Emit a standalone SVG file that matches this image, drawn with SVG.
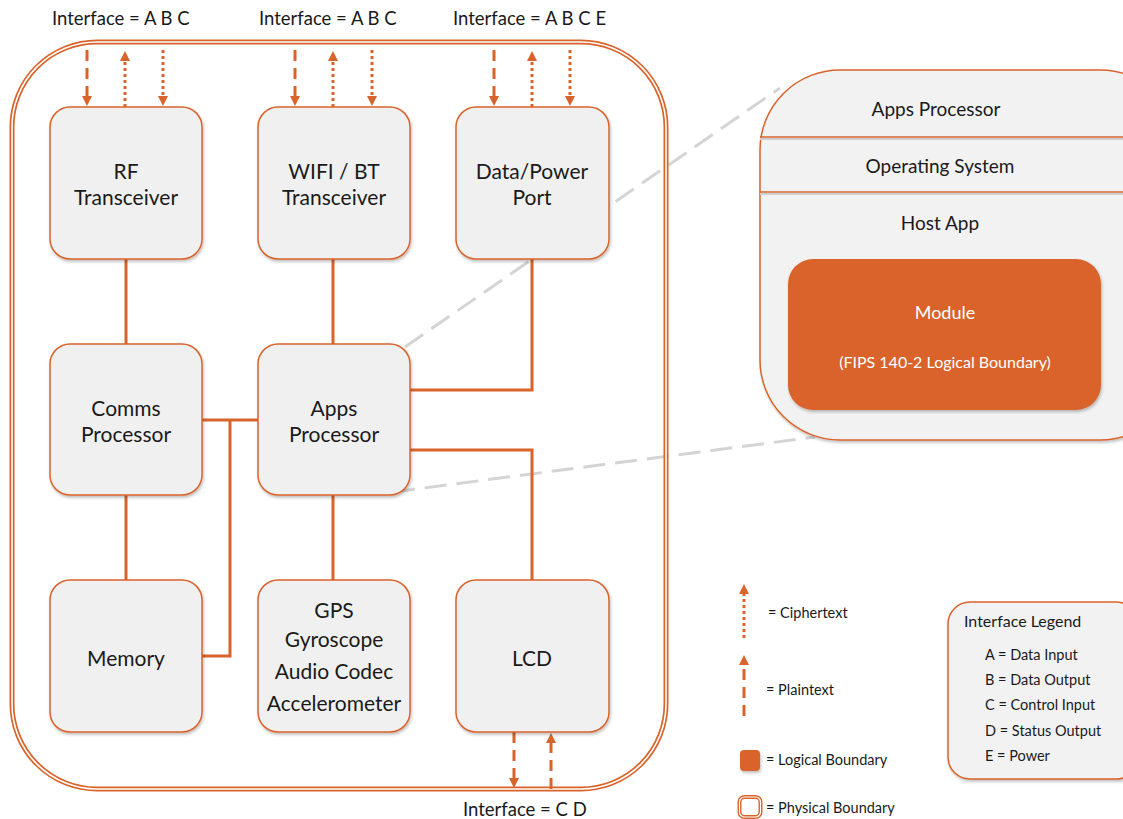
<svg xmlns="http://www.w3.org/2000/svg" width="1123" height="819" viewBox="0 0 1123 819">
<style>
text{font-family:Lato,"Open Sans","Liberation Sans",sans-serif;fill:#1a1a1a}
.t{font-size:21px;text-anchor:middle}
.p{font-size:19px;text-anchor:middle}
.lab{font-size:18.5px}
.node{fill:#f0f0f0;stroke:#d9642b;stroke-width:1.5;filter:url(#sh)}
.con{fill:none;stroke:#d9642b;stroke-width:3}
.dash{stroke:#d9642b;stroke-width:3;stroke-dasharray:11 7;fill:none}
.dot{stroke:#d9642b;stroke-width:3;stroke-dasharray:3 3;fill:none}
.zoom{stroke:#d4d4d4;stroke-width:3;stroke-dasharray:22 10;fill:none}
.lg{font-size:14.5px}
</style>
<defs>
<filter id="sh" x="-20%" y="-20%" width="140%" height="140%"><feDropShadow dx="1" dy="2" stdDeviation="1.5" flood-color="#000" flood-opacity="0.25"/></filter>
<marker id="ah" markerWidth="10" markerHeight="10" refX="5" refY="5" orient="auto" markerUnits="userSpaceOnUse" viewBox="0 0 10 10"><path d="M0,0 L10,5 L0,10 z" fill="#d9642b"/></marker>
</defs>
<rect width="1123" height="819" fill="#fff"/>

<!-- zoom lines -->
<g id="zoomlines">
<line class="zoom" x1="405" y1="347" x2="780" y2="88"/>
<line class="zoom" x1="393" y1="492" x2="815" y2="437"/>
</g>

<!-- physical boundary -->
<g id="physical-boundary">
<rect x="12" y="42" width="654" height="747" rx="85" fill="none" stroke="#d9642b" stroke-width="5"/>
<rect x="12" y="42" width="654" height="747" rx="85" fill="none" stroke="#fff" stroke-width="1.6"/>
</g>

<!-- connectors -->
<g id="connectors">
<line class="con" x1="126" y1="259" x2="126" y2="344"/>
<line class="con" x1="126" y1="495" x2="126" y2="600"/>
<line class="con" x1="333" y1="259" x2="333" y2="344"/>
<line class="con" x1="333" y1="495" x2="333" y2="580"/>
<line class="con" x1="202" y1="420" x2="258" y2="420"/>
<polyline class="con" points="202,656 230,656 230,420"/>
<polyline class="con" points="410,390 532,390 532,259"/>
<polyline class="con" points="410,450 532,450 532,580"/>
<line class="dash" x1="87" y1="50" x2="87" y2="101" marker-end="url(#ah)"/>
<line class="dot" x1="125" y1="107" x2="125" y2="56" marker-end="url(#ah)"/>
<line class="dot" x1="163" y1="50" x2="163" y2="101" marker-end="url(#ah)"/>
<line class="dash" x1="295" y1="50" x2="295" y2="101" marker-end="url(#ah)"/>
<line class="dot" x1="333" y1="107" x2="333" y2="56" marker-end="url(#ah)"/>
<line class="dot" x1="372" y1="50" x2="372" y2="101" marker-end="url(#ah)"/>
<line class="dash" x1="494" y1="50" x2="494" y2="101" marker-end="url(#ah)"/>
<line class="dot" x1="532" y1="107" x2="532" y2="56" marker-end="url(#ah)"/>
<line class="dot" x1="570" y1="50" x2="570" y2="101" marker-end="url(#ah)"/>
<line class="dash" x1="514" y1="732" x2="514" y2="783" marker-end="url(#ah)"/>
<line class="dash" x1="551" y1="789" x2="551" y2="738" marker-end="url(#ah)"/>
</g>

<g id="labels">
<text class="lab" x="52" y="25">Interface = A B C</text>
<text class="lab" x="259" y="25">Interface = A B C</text>
<text class="lab" x="453" y="25">Interface = A B C E</text>
<text class="lab" x="463" y="816">Interface = C D</text>
</g>

<g id="rf"><rect class="node" x="50" y="107" width="152" height="152" rx="20"/>
<text class="t" x="126" y="179">RF</text><text class="t" x="126" y="205">Transceiver</text></g>
<g id="wifi"><rect class="node" x="258" y="107" width="152" height="152" rx="20"/>
<text class="t" x="334" y="179">WIFI / BT</text><text class="t" x="334" y="205">Transceiver</text></g>
<g id="dataport"><rect class="node" x="456" y="107" width="153" height="152" rx="20"/>
<text class="t" x="532" y="179">Data/Power</text><text class="t" x="532" y="205">Port</text></g>
<g id="comms"><rect class="node" x="50" y="344" width="152" height="151" rx="20"/>
<text class="t" x="126" y="416">Comms</text><text class="t" x="126" y="442">Processor</text></g>
<g id="apps"><rect class="node" x="258" y="344" width="152" height="151" rx="20"/>
<text class="t" x="334" y="416">Apps</text><text class="t" x="334" y="442">Processor</text></g>
<g id="memory"><rect class="node" x="50" y="580" width="152" height="152" rx="20"/>
<text class="t" x="126" y="666">Memory</text></g>
<g id="sensors"><rect class="node" x="258" y="580" width="152" height="152" rx="20"/>
<text class="t" x="334" y="618">GPS</text><text class="t" x="334" y="647">Gyroscope</text><text class="t" x="334" y="679">Audio Codec</text><text class="t" x="334" y="711">Accelerometer</text></g>
<g id="lcd"><rect class="node" x="456" y="580" width="153" height="152" rx="20"/>
<text class="t" x="532" y="666">LCD</text></g>

<!-- detail panel -->
<g id="apps-detail">
<rect x="760" y="70" width="420" height="370" rx="80" fill="#f2f2f2" stroke="#d9642b" stroke-width="1.5" filter="url(#sh)"/>
<line x1="760" y1="139" x2="1123" y2="139" stroke="#cfcfcf" stroke-width="2"/>
<line x1="760" y1="137" x2="1123" y2="137" stroke="#d9642b" stroke-width="1.5"/>
<line x1="760" y1="194" x2="1123" y2="194" stroke="#cfcfcf" stroke-width="2"/>
<line x1="760" y1="192" x2="1123" y2="192" stroke="#d9642b" stroke-width="1.5"/>
<text class="p" x="936" y="116">Apps Processor</text>
<text class="p" x="940" y="173">Operating System</text>
<text class="p" x="940" y="230">Host App</text>
</g>
<g id="module">
<rect x="788" y="259" width="313" height="151" rx="25" fill="#d9642b" filter="url(#sh)"/>
<text x="945" y="319" style="font-size:18px;text-anchor:middle;fill:#fff">Module</text>
<text x="945" y="368" style="font-size:16px;text-anchor:middle;fill:#fff">(FIPS 140-2 Logical Boundary)</text>
</g>

<!-- legend -->
<g id="legend">
<line class="dot" x1="744" y1="638" x2="744" y2="589" marker-end="url(#ah)"/>
<text class="lg" x="768" y="618">= Ciphertext</text>
<line class="dash" x1="744" y1="716" x2="744" y2="660" marker-end="url(#ah)"/>
<text class="lg" x="766" y="695">= Plaintext</text>
<rect x="740" y="750" width="20" height="21" rx="4" fill="#d9642b" filter="url(#sh)"/>
<text class="lg" x="766" y="765">= Logical Boundary</text>
<rect x="739.5" y="797" width="21" height="20" rx="5" fill="#fff" stroke="#d9642b" stroke-width="4"/>
<rect x="739.5" y="797" width="21" height="20" rx="5" fill="none" stroke="#fff" stroke-width="1.2"/>
<text class="lg" x="766" y="813">= Physical Boundary</text>
</g>
<g id="interface-legend">
<rect x="948" y="602" width="190" height="177" rx="22" fill="#f2f2f2" stroke="#d9642b" stroke-width="1.5" filter="url(#sh)"/>
<text x="964" y="627" style="font-size:16px">Interface Legend</text>
<text class="lg" x="985" y="660">A = Data Input</text>
<text class="lg" x="985" y="685">B = Data Output</text>
<text class="lg" x="985" y="710">C = Control Input</text>
<text class="lg" x="985" y="736">D = Status Output</text>
<text class="lg" x="985" y="761">E = Power</text>
</g>
</svg>
